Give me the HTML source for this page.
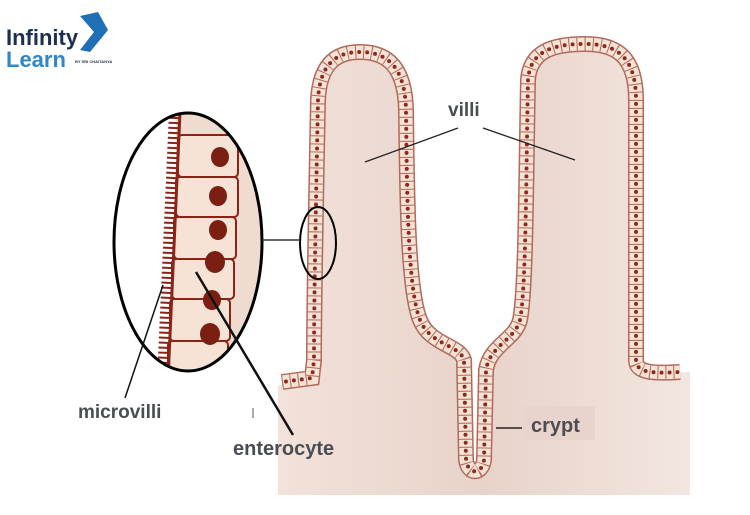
<!DOCTYPE html>
<html><head><meta charset="utf-8"><style>
html,body{margin:0;padding:0;background:#fff;}
svg{display:block;}
text{font-family:"Liberation Sans",sans-serif;font-weight:bold;}
</style></head><body>
<svg width="750" height="515" viewBox="0 0 750 515" xmlns="http://www.w3.org/2000/svg">
<defs>
<linearGradient id="bg" x1="0" y1="0" x2="1" y2="0">
<stop offset="0" stop-color="#f2e2da"/><stop offset="0.5" stop-color="#e8d3ca"/><stop offset="1" stop-color="#f3e6e0"/>
</linearGradient>
<clipPath id="ell"><ellipse cx="188" cy="242" rx="74" ry="129"/></clipPath>
</defs>
<!-- logo -->
<text x="6" y="45" font-size="22" fill="#1c2e52">Infinity</text>
<text x="6" y="67" font-size="22" fill="#2f86c9">Learn</text>
<polygon points="80,16 98,12 108,30 90,52 80,50 94,32" fill="#1e6fb5"/>
<text x="75" y="63" font-size="4" fill="#1c2e52">BY SRI CHAITANYA</text>

<!-- tissue background -->
<path d="M278,386 L312,378 L318,100 C320,60 340,52 360,52 C390,52 405,70 406,110 C407,200 408,290 420,320 C430,345 460,345 464,360 L466,460 C468,475 482,475 484,460 L486,370 C490,345 515,340 520,320 C526,290 526,180 528,80 C530,50 555,44 585,44 C615,44 636,55 636,100 L636,360 C636,372 650,374 690,372 L690,495 L278,495 Z" fill="url(#bg)"/>
<!-- epithelium -->
<g fill="none">
<path d="M282,382 L312,378 L314,360 C314,300 316,200 318,100 C320,60 340,52 360,52 C390,52 405,70 406,110 C407,200 408,290 420,320 C430,345 460,345 464,360 L466,460 C468,475 482,475 484,460 L486,370 C490,345 515,340 520,320 C526,290 526,180 528,80 C530,50 555,44 585,44 C615,44 636,55 636,100 L636,360 C636,372 650,374 680,372" stroke="#b06a58" stroke-width="16"/>
<path d="M282,382 L312,378 L314,360 C314,300 316,200 318,100 C320,60 340,52 360,52 C390,52 405,70 406,110 C407,200 408,290 420,320 C430,345 460,345 464,360 L466,460 C468,475 482,475 484,460 L486,370 C490,345 515,340 520,320 C526,290 526,180 528,80 C530,50 555,44 585,44 C615,44 636,55 636,100 L636,360 C636,372 650,374 680,372" stroke="#f6e2d6" stroke-width="13"/>
<path d="M282,382 L312,378 L314,360 C314,300 316,200 318,100 C320,60 340,52 360,52 C390,52 405,70 406,110 C407,200 408,290 420,320 C430,345 460,345 464,360 L466,460 C468,475 482,475 484,460 L486,370 C490,345 515,340 520,320 C526,290 526,180 528,80 C530,50 555,44 585,44 C615,44 636,55 636,100 L636,360 C636,372 650,374 680,372" stroke="#b06a58" stroke-width="13" stroke-dasharray="1 7"/>
<path d="M282,382 L312,378 L314,360 C314,300 316,200 318,100 C320,60 340,52 360,52 C390,52 405,70 406,110 C407,200 408,290 420,320 C430,345 460,345 464,360 L466,460 C468,475 482,475 484,460 L486,370 C490,345 515,340 520,320 C526,290 526,180 528,80 C530,50 555,44 585,44 C615,44 636,55 636,100 L636,360 C636,372 650,374 680,372" stroke="#8e2a1c" stroke-width="4" stroke-dasharray="0 8" stroke-linecap="round" stroke-dashoffset="-4"/>
</g>

<!-- magnified ellipse -->
<g clip-path="url(#ell)">
<rect x="176" y="100" width="100" height="290" fill="#f0dbd0"/>
<g stroke="#8b2416" stroke-width="2" fill="#f6e3d6">
<rect x="178" y="135" width="60" height="42" rx="4"/>
<rect x="176" y="177" width="62" height="40" rx="4"/>
<rect x="174" y="217" width="62" height="42" rx="4"/>
<rect x="172" y="259" width="62" height="40" rx="4"/>
<rect x="170" y="299" width="60" height="42" rx="4"/>
<rect x="168" y="341" width="60" height="40" rx="4"/>
</g>
<g fill="#7a1f12">
<ellipse cx="220" cy="157" rx="9" ry="10"/>
<ellipse cx="218" cy="196" rx="9" ry="10"/>
<ellipse cx="218" cy="230" rx="9" ry="10"/>
<ellipse cx="215" cy="262" rx="10" ry="11"/>
<ellipse cx="212" cy="300" rx="9" ry="10"/>
<ellipse cx="210" cy="334" rx="10" ry="11"/>
</g>
<path d="M180,112 L168,380" stroke="#8b2416" stroke-width="3" fill="none"/>
<path d="M175,112 L163,380" stroke="#8b2416" stroke-width="12" stroke-dasharray="2 3" fill="none"/>
</g>
<ellipse cx="188" cy="242" rx="74" ry="129" fill="none" stroke="#000" stroke-width="3"/>
<ellipse cx="318" cy="243" rx="18" ry="36" fill="none" stroke="#000" stroke-width="2"/>
<line x1="262" y1="240" x2="300" y2="240" stroke="#333" stroke-width="1.5"/>

<!-- labels -->
<text x="448" y="116" font-size="19" fill="#4a4d52">villi</text>
<line x1="458" y1="128" x2="365" y2="162" stroke="#222" stroke-width="1.3"/>
<line x1="483" y1="128" x2="575" y2="160" stroke="#222" stroke-width="1.3"/>
<line x1="163" y1="285" x2="125" y2="398" stroke="#111" stroke-width="1.5"/>
<text x="78" y="418" font-size="19" fill="#4a4d52">microvilli</text>
<line x1="196" y1="272" x2="293" y2="435" stroke="#111" stroke-width="2.5"/>
<text x="233" y="455" font-size="20" fill="#4a4d52">enterocyte</text>
<line x1="253" y1="408" x2="253" y2="418" stroke="#555" stroke-width="1"/>
<rect x="523" y="406" width="72" height="34" fill="#e8d4cc"/>
<text x="531" y="432" font-size="20" fill="#4a4d52">crypt</text>
<line x1="496" y1="428" x2="522" y2="428" stroke="#222" stroke-width="1.5"/>
</svg>
</body></html>
